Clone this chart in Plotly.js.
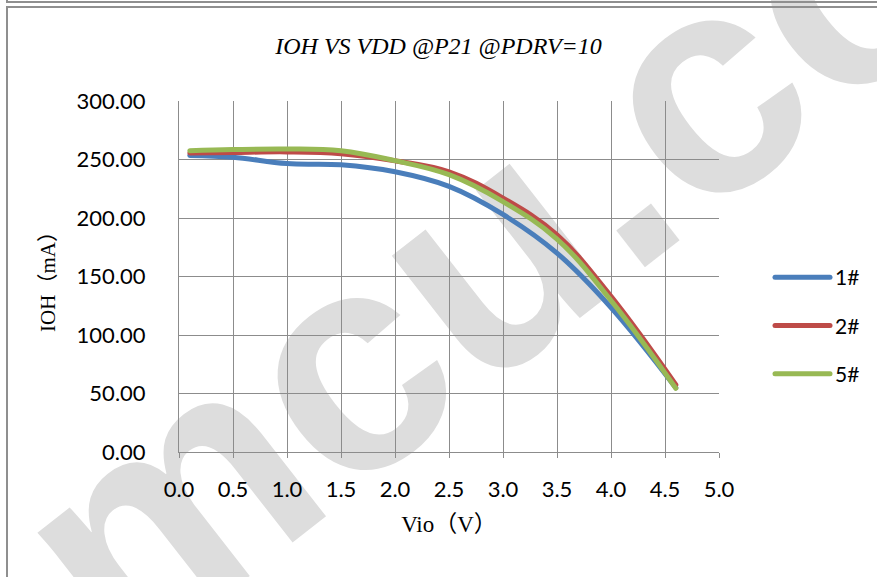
<!DOCTYPE html>
<html><head><meta charset="utf-8">
<script src="https://cdn.plot.ly/plotly-3.0.1.min.js"></script>
<style>
html,body{margin:0;padding:0;background:#fff;}
#wrap{position:relative;width:877px;height:577px;overflow:hidden;background:#fff;}
#wm{position:absolute;left:0;top:0;}
#chart{position:absolute;left:0;top:0;width:877px;height:577px;}
#chart path.js-line{stroke-linecap:round;stroke-linejoin:round;}
.frame1{position:absolute;left:6px;top:-20px;width:900px;height:21px;border-left:2px solid #8f8f8f;border-bottom:2px solid #8f8f8f;}
.frame2{position:absolute;left:6px;top:6px;width:900px;height:600px;border-left:2px solid #8f8f8f;border-top:2px solid #8f8f8f;}
</style></head>
<body><div id="wrap">
<svg id="wm" width="877" height="577"><text x="594" y="307" transform="rotate(-38 594 307)" text-anchor="middle" font-family="Liberation Sans" font-weight="bold" font-size="312" fill="#dddddd">emcu.com</text></svg>
<div class="frame1"></div><div class="frame2"></div>
<div id="chart"></div></div>
<script>
const voltage = [0.1, 0.5, 1.0, 1.5, 2.0, 2.5, 3.0, 3.5, 4.0, 4.6];
const ioh1 = [253.5, 252, 246.5, 245.5, 239.5, 227, 203, 170, 123.5, 55];
const ioh2 = [255.5, 256, 256.5, 255, 249, 239.5, 217, 185.5, 133, 57.5];
const ioh5 = [257.5, 258.5, 259, 257.5, 249, 237, 214, 182, 129.5, 54.5];
const seriesNames = ['1#', '2#', '5#'];
const seriesColors = ['#4A7EBB', '#BE4B48', '#98B954'];

const ys = [ioh1, ioh2, ioh5];
const traces = ys.map((y, i) => ({
  x: voltage, y: y, type: 'scatter', mode: 'lines', name: seriesNames[i],
  legendgroup: 'g' + i,
  line: {color: seriesColors[i], width: 5, shape: 'spline', smoothing: 1.1}
}));

const tickFont = {family: 'Lato, Noto Sans, sans-serif', size: 22, color: '#000'};
const gridC = '#8c8c8c';
const layout = {
  width: 877, height: 577,
  margin: {l: 179, r: 158, t: 101, b: 125, pad: 0},
  paper_bgcolor: 'rgba(0,0,0,0)', plot_bgcolor: 'rgba(0,0,0,0)',
  title: {text: 'IOH VS VDD @P21 @PDRV=10', x: 0.5, xanchor: 'center', xref: 'container',
          y: 1 - 46/577, yanchor: 'middle', yref: 'container',
          font: {family: 'Liberation Serif, serif', size: 24, style: 'italic', color: '#000'}},
  xaxis: {range: [0, 5], tick0: 0, dtick: 0.5, tickformat: '.1f',
          showgrid: true, gridcolor: gridC, gridwidth: 1, zeroline: false,
          showline: true, linecolor: gridC, linewidth: 1,
          ticks: 'outside', ticklen: 5, tickcolor: gridC,
          tickfont: tickFont, ticklabelstandoff: 13, automargin: false,
          title: {text: 'Vio（V）', standoff: 14,
                  font: {family: 'Liberation Serif, Noto Sans CJK SC, serif', size: 23, color: '#000'}}},
  yaxis: {range: [0, 300], tick0: 0, dtick: 50, tickformat: '.2f',
          showgrid: true, gridcolor: gridC, gridwidth: 1, zeroline: false,
          showline: true, linecolor: gridC, linewidth: 1,
          ticks: '', tickfont: tickFont, ticklabelstandoff: 28, automargin: false,
          title: {text: 'IOH（mA）', standoff: 15,
                  font: {family: 'Liberation Serif, Noto Sans CJK SC, serif', size: 21, color: '#000'}}},
  showlegend: true,
  legend: {xref: 'container', yref: 'container', x: 770/877, xanchor: 'left',
           y: 1 - 257/577, yanchor: 'top',
           font: {family: 'Lato, Noto Sans, sans-serif', size: 21, color: '#000'},
           tracegroupgap: 18, itemwidth: 55, bgcolor: 'rgba(0,0,0,0)', borderwidth: 0}
};
Plotly.newPlot('chart', traces, layout, {displayModeBar: false, staticPlot: true});
</script>
</body></html>
